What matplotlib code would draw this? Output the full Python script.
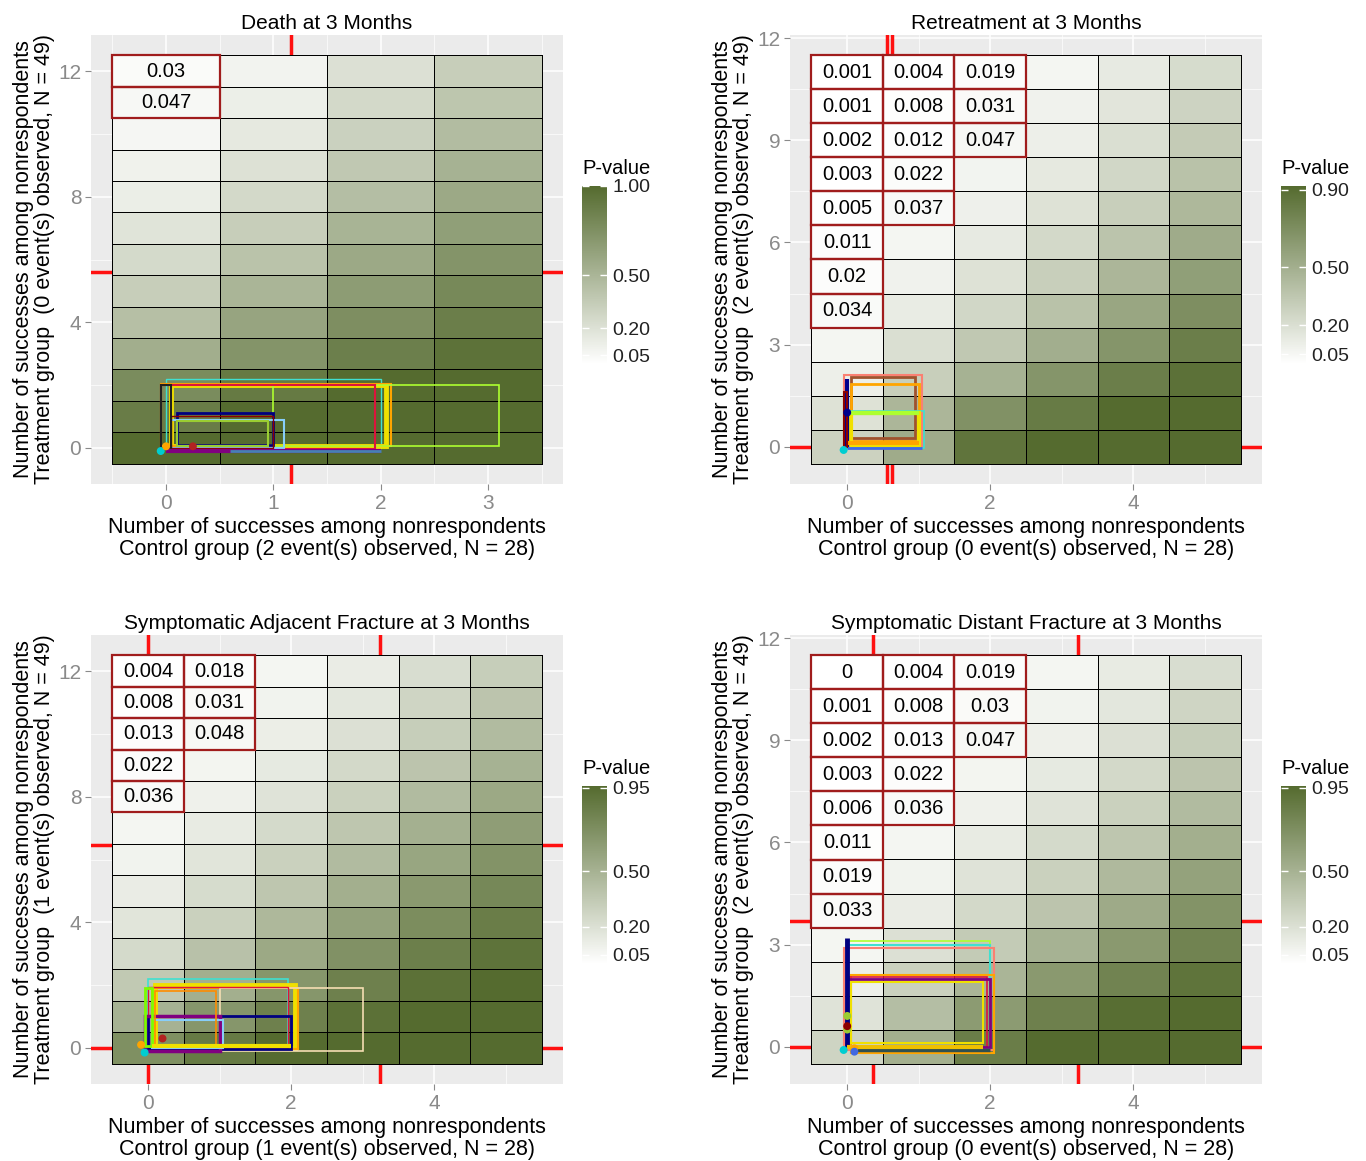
import numpy as np
import matplotlib.pyplot as plt
from matplotlib.colors import LinearSegmentedColormap, Normalize
from matplotlib.patches import Rectangle
from matplotlib.ticker import AutoMinorLocator

plt.rcParams['font.family'] = ['Liberation Sans', 'DejaVu Sans']

death_p = [
    [0.030, 0.08, 0.21, 0.33],
    [0.047, 0.11, 0.26, 0.39],
    [0.06, 0.15, 0.31, 0.45],
    [0.09, 0.20, 0.37, 0.52],
    [0.12, 0.26, 0.44, 0.58],
    [0.18, 0.33, 0.51, 0.65],
    [0.25, 0.41, 0.58, 0.72],
    [0.33, 0.50, 0.67, 0.80],
    [0.43, 0.61, 0.76, 0.87],
    [0.55, 0.72, 0.86, 0.95],
    [0.78, 0.90, 1.00, 1.00],
    [0.88, 1.00, 1.00, 1.00],
    [1.00, 1.00, 1.00, 1.00],
]
retreat_p = [
    [0.001, 0.004, 0.019, 0.06, 0.13, 0.22],
    [0.001, 0.008, 0.031, 0.08, 0.16, 0.27],
    [0.002, 0.012, 0.047, 0.10, 0.20, 0.32],
    [0.003, 0.022, 0.07, 0.14, 0.25, 0.38],
    [0.005, 0.037, 0.09, 0.18, 0.30, 0.44],
    [0.011, 0.06, 0.13, 0.24, 0.37, 0.52],
    [0.020, 0.08, 0.18, 0.30, 0.45, 0.60],
    [0.034, 0.12, 0.25, 0.38, 0.55, 0.70],
    [0.06, 0.20, 0.34, 0.50, 0.66, 0.80],
    [0.10, 0.30, 0.48, 0.66, 0.80, 0.88],
    [0.18, 0.45, 0.68, 0.82, 0.92, 0.92],
    [0.28, 0.52, 0.86, 0.92, 0.92, 0.92],
]
adjacent_p = [
    [0.004, 0.018, 0.06, 0.12, 0.22, 0.32],
    [0.008, 0.031, 0.08, 0.16, 0.27, 0.38],
    [0.013, 0.048, 0.11, 0.20, 0.32, 0.44],
    [0.022, 0.07, 0.14, 0.25, 0.38, 0.50],
    [0.036, 0.09, 0.18, 0.30, 0.44, 0.56],
    [0.06, 0.13, 0.24, 0.37, 0.51, 0.63],
    [0.08, 0.17, 0.30, 0.44, 0.58, 0.70],
    [0.12, 0.23, 0.37, 0.52, 0.66, 0.77],
    [0.17, 0.30, 0.46, 0.61, 0.74, 0.84],
    [0.24, 0.40, 0.56, 0.71, 0.83, 0.91],
    [0.35, 0.52, 0.68, 0.82, 0.92, 0.96],
    [0.50, 0.68, 0.82, 0.92, 0.96, 0.96],
    [0.72, 0.86, 0.96, 0.96, 0.96, 0.96],
]
distant_p = [
    [0.000, 0.004, 0.019, 0.06, 0.13, 0.22],
    [0.001, 0.008, 0.030, 0.08, 0.16, 0.27],
    [0.002, 0.013, 0.047, 0.10, 0.20, 0.32],
    [0.003, 0.022, 0.07, 0.14, 0.25, 0.38],
    [0.006, 0.036, 0.09, 0.18, 0.30, 0.44],
    [0.011, 0.06, 0.13, 0.24, 0.37, 0.52],
    [0.019, 0.08, 0.18, 0.30, 0.45, 0.60],
    [0.033, 0.12, 0.25, 0.38, 0.55, 0.70],
    [0.06, 0.20, 0.34, 0.50, 0.66, 0.80],
    [0.10, 0.30, 0.48, 0.66, 0.80, 0.90],
    [0.18, 0.42, 0.65, 0.82, 0.94, 0.96],
    [0.28, 0.52, 0.84, 0.96, 0.96, 0.96],
]

titles = ['Death at 3 Months', 'Retreatment at 3 Months',
          'Symptomatic Adjacent Fracture at 3 Months', 'Symptomatic Distant Fracture at 3 Months']
treat_events = [0, 2, 1, 2]
control_events = [2, 0, 1, 0]
x_ticks = [[0, 1, 2, 3], [0, 2, 4], [0, 2, 4], [0, 2, 4]]
y_ticks = [[0, 4, 8, 12], [0, 3, 6, 9, 12], [0, 4, 8, 12], [0, 3, 6, 9, 12]]
legend_top = [1.00, 0.90, 0.95, 0.95]

# tipping-point marks
tip_x = [[1.16], [0.56, 0.63], [0.0, 3.24], [0.36, 3.23]]
tip_y = [[5.6], [0.0], [6.46, 0.0], [3.69, 0.0]]

# imputation boxes (x0, y0, x1, y1)
death_boxes = [(0.0, 0.0, 2.0, 2.2), (0.05, 0.05, 2.05, 2.0), (-0.05, 0.05, 2.1, 2.05),
               (1.0, 0.05, 3.1, 2.0), (-0.05, -0.05, 1.95, 2.0), (0.1, 0.1, 1.0, 1.1),
               (0.05, 0.0, 1.1, 0.9), (0.1, 0.05, 0.95, 0.85), (0.05, 0.0, 1.0, 1.0),
               (-0.05, 0.0, 0.05, 2.0), (0.0, -0.1, 2.0, -0.1), (0.6, -0.1, 2.0, -0.1)]
retreat_boxes = [(-0.05, -0.05, 1.05, 2.1), (0.05, 0.25, 0.95, 2.05), (0.05, 0.15, 1.0, 1.85),
                 (0.0, -0.05, 1.07, 1.05), (0.05, 0.05, 1.0, 1.0), (0.05, 1.0, 1.0, 1.0),
                 (0.0, 0.0, 0.0, 2.0), (0.0, -0.05, 1.05, -0.05), (0.0, 0.1, 1.0, 0.1),
                 (-0.05, 0.0, 0.0, 1.6)]
adjacent_boxes = [(0.0, 0.0, 1.95, 2.2), (0.1, 0.0, 2.05, 2.0), (0.05, -0.05, 2.1, 1.9),
                  (1.0, -0.1, 3.0, 1.9), (0.0, 0.0, 1.95, 1.95), (0.0, -0.05, 2.0, 1.0),
                  (-0.05, -0.1, 1.0, 1.0), (0.05, 0.0, 1.05, 0.9), (0.1, 0.1, 0.95, 1.8),
                  (-0.05, 0.05, 0.05, 1.9), (0.05, 0.05, 2.0, 0.05)]
distant_boxes = [(0.0, 0.0, 2.0, 3.1), (0.0, -0.05, 2.0, 3.0), (-0.05, -0.1, 2.05, 2.9),
                 (0.05, -0.2, 2.05, 2.1), (0.0, 0.0, 1.95, 2.05), (0.0, 0.0, 2.0, 2.0),
                 (0.05, 0.1, 1.9, 1.9), (0.1, -0.1, 2.0, -0.1), (0.0, 0.0, 0.0, 3.2),
                 (0.0, 0.0, 1.9, 0.0)]
boxes = [death_boxes, retreat_boxes, adjacent_boxes, distant_boxes]

box_colors = [
    ['#40E0D0', '#F0E000', '#FFA500', '#ADFF2F', '#DC143C', '#000080', '#87CEFA',
     '#9ACD32', '#8B0000', '#222222', '#800080', '#4682B4'],
    ['#FA8072', '#A0522D', '#FFA500', '#40E0D0', '#F0E000', '#ADFF2F', '#00008B',
     '#4169E1', '#FFA500', '#8B0000'],
    ['#40E0D0', '#F0E000', '#FFA500', '#F5DEB3', '#DC143C', '#000080', '#800080',
     '#87CEFA', '#FF8C00', '#7CFC00', '#F0E000'],
    ['#ADFF2F', '#40E0D0', '#FA8072', '#FFA500', '#DC143C', '#800080', '#F0E000',
     '#2F4F4F', '#000080', '#F0C000'],
]
box_widths = [
    [1.0, 3.5, 1.5, 1.2, 1.5, 2.0, 1.5, 1.5, 1.0, 1.5, 3.0, 2.0],
    [1.5, 2.0, 2.0, 1.2, 3.0, 3.0, 3.0, 2.0, 3.0, 1.5],
    [1.2, 3.5, 1.5, 1.2, 1.0, 2.0, 2.5, 1.5, 1.2, 2.0, 3.0],
    [1.2, 1.5, 1.5, 1.5, 1.2, 2.0, 1.5, 2.5, 3.5, 3.0],
]

# starting points of the imputation paths
dot_x = [[-0.05, 0.0, 0.25], [-0.05, 0.0], [0.2, -0.05, -0.1], [0.0, 0.0, 0.0, -0.05, 0.1, 0.1]]
dot_y = [[-0.1, 0.05, 0.05], [-0.1, 1.0], [0.3, -0.15, 0.1], [0.5, 0.6, 0.9, -0.1, -0.05, -0.15]]
dot_colors = [['#00CED1', '#FFA500', '#B22222'], ['#00CED1', '#00008B'],
              ['#B22222', '#00CED1', '#FFA500'],
              ['#9ACD32', '#8B0000', '#9ACD32', '#00CED1', '#FFA500', '#4169E1']]

grids = [death_p, retreat_p, adjacent_p, distant_p]

W, H = 1366, 1161
fig = plt.figure(figsize=(W / 100, H / 100), dpi=100)


def px_axes(left, top, width, height):
    return fig.add_axes([left / W, 1 - (top + height) / H, width / W, height / H])


cmap = LinearSegmentedColormap.from_list('pval', ['#FFFFFF', '#556B2F'])

panel_left = [91, 790, 91, 790]
panel_top = [35, 35, 635, 635]
cbar_left = [582, 1281, 582, 1281]
cbar_top = [186, 186, 786, 786]

for i in range(4):
    grid = np.array(grids[i])[::-1]
    nrow, ncol = grid.shape
    ax = px_axes(panel_left[i], panel_top[i], 472, 449)
    ax.set_facecolor('#EBEBEB')
    ax.set_axisbelow(True)

    norm = Normalize(0, grid.max())
    xe = np.arange(ncol + 1) - 0.5
    ye = np.arange(nrow + 1) - 0.5
    mesh = ax.pcolormesh(xe, ye, grid, cmap=cmap, norm=norm,
                         edgecolors='black', linewidth=0.55, zorder=2)

    for xv in tip_x[i]:
        ax.axvline(xv, color='#FF1010', lw=2.5, zorder=1.5)
    for yv in tip_y[i]:
        ax.axhline(yv, color='#FF1010', lw=2.5, zorder=1.5)

    for r in range(nrow):
        for c in range(ncol):
            v = grid[r, c]
            if v < 0.05:
                ax.add_patch(Rectangle((c - 0.5, r - 0.5), 1, 1, fill=False,
                                       ec='#A01C1C', lw=1.6, zorder=3))
                ax.text(c, r, f'{round(v, 3):g}', ha='center', va='center',
                        fontsize=14.5, zorder=4)

    for (x0, y0, x1, y1), col, lw in zip(boxes[i], box_colors[i], box_widths[i]):
        ax.add_patch(Rectangle((x0, y0), x1 - x0, y1 - y0, fill=False,
                               ec=col, lw=lw, zorder=5))
    ax.scatter(dot_x[i], dot_y[i], c=dot_colors[i], s=22, zorder=6)

    ax.set_xlim(-0.5 - 0.05 * ncol, ncol - 0.5 + 0.05 * ncol)
    ax.set_ylim(-0.5 - 0.05 * nrow, nrow - 0.5 + 0.05 * nrow)
    ax.set_xticks(x_ticks[i])
    ax.set_yticks(y_ticks[i])
    ax.xaxis.set_minor_locator(AutoMinorLocator(2))
    ax.yaxis.set_minor_locator(AutoMinorLocator(2))
    ax.grid(which='major', color='white', lw=1.1)
    ax.grid(which='minor', color='white', lw=0.5)
    ax.tick_params(which='minor', length=0)
    ax.tick_params(which='major', length=4, color='#8A8A8A', labelcolor='#8A8A8A',
                   labelsize=15, pad=3)
    for s in ax.spines.values():
        s.set_visible(False)

    ax.set_title(titles[i], fontsize=15, pad=4)
    ax.set_xlabel('Number of successes among nonrespondents\n'
                  f'Control group ({control_events[i]} event(s) observed, N = 28)',
                  fontsize=15.5, labelpad=3, linespacing=1.05)
    ax.set_ylabel('Number of successes among nonrespondents\n'
                  f'Treatment group  ({treat_events[i]} event(s) observed, N = 49)',
                  fontsize=15.5, labelpad=2, linespacing=1.05)

    cax = px_axes(cbar_left[i], cbar_top[i], 25, 178)
    ticks = [0.05, 0.2, 0.5, legend_top[i]]
    cb = fig.colorbar(mesh, cax=cax)
    cb.set_ticks(ticks, labels=[f'{t:.2f}' for t in ticks])
    cb.outline.set_visible(False)
    cax.tick_params(direction='in', length=5, color='white', width=1,
                    left=True, right=True, labelsize=14, labelcolor='#222222', pad=4)
    cax.set_title('P-value', loc='left', fontsize=14.5, pad=9)

fig.savefig('out.png', dpi=100)
